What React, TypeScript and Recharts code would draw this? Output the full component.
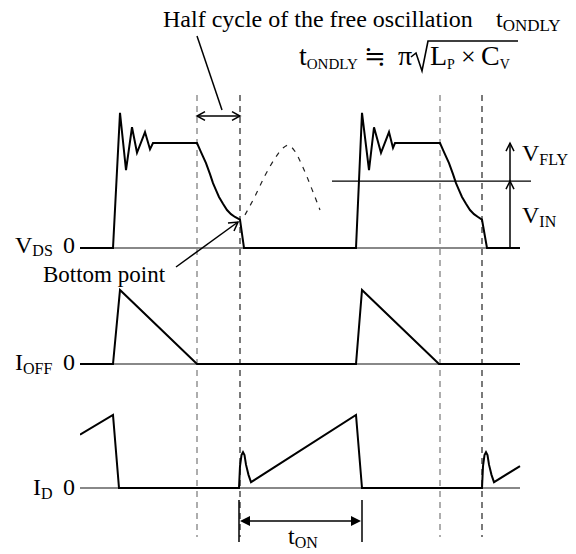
import React from "react"
import { ComposedChart, Line, XAxis, YAxis, ReferenceLine } from "recharts"

// time axis in px-like units (0 = left end of traces)
const vdsWave = [
  { t: 0, v: 0 }, { t: 33, v: 0 }, { t: 40, v: 1.96 }, { t: 46, v: 1.13 }, { t: 52, v: 1.75 },
  { t: 57, v: 1.38 }, { t: 65, v: 1.68 }, { t: 70, v: 1.43 }, { t: 73, v: 1.52 }, { t: 117, v: 1.52 },
  { t: 121, v: 1.39 }, { t: 126, v: 1.23 }, { t: 130, v: 1.07 }, { t: 133, v: 0.94 }, { t: 136, v: 0.84 },
  { t: 139, v: 0.74 }, { t: 143, v: 0.64 }, { t: 147, v: 0.55 }, { t: 151, v: 0.49 }, { t: 155, v: 0.45 },
  { t: 160, v: 0.41 }, { t: 164, v: 0 },
  { t: 276, v: 0 }, { t: 282, v: 1.96 }, { t: 289, v: 1.13 }, { t: 294, v: 1.75 }, { t: 301, v: 1.38 },
  { t: 309, v: 1.68 }, { t: 313, v: 1.45 }, { t: 315, v: 1.52 }, { t: 360, v: 1.52 },
  { t: 364, v: 1.39 }, { t: 369, v: 1.23 }, { t: 373, v: 1.07 }, { t: 376, v: 0.94 }, { t: 379, v: 0.84 },
  { t: 382, v: 0.74 }, { t: 386, v: 0.64 }, { t: 390, v: 0.55 }, { t: 394, v: 0.49 }, { t: 398, v: 0.45 },
  { t: 402, v: 0.41 }, { t: 407, v: 0 },
  { t: 440, v: 0 },
]

// free oscillation continuation (dashed)
const freeOsc = [
  { t: 165, v: 0.48 }, { t: 175, v: 0.75 }, { t: 185, v: 1.05 }, { t: 195, v: 1.3 }, { t: 203, v: 1.45 },
  { t: 208, v: 1.49 }, { t: 214, v: 1.42 }, { t: 222, v: 1.2 }, { t: 232, v: 0.85 }, { t: 240, v: 0.55 },
]

const ioffWave = [
  { t: 0, v: 0 }, { t: 33, v: 0 }, { t: 40, v: 1 }, { t: 117, v: 0 },
  { t: 276, v: 0 }, { t: 282, v: 1 }, { t: 359, v: 0 }, { t: 440, v: 0 },
]

const idWave = [
  { t: 0, v: 0.73 }, { t: 33, v: 1.0 }, { t: 39, v: 0 }, { t: 159, v: 0 },
  { t: 160, v: 0.3 }, { t: 161.5, v: 0.45 }, { t: 163, v: 0.49 }, { t: 164.5, v: 0.45 },
  { t: 166, v: 0.32 }, { t: 168.5, v: 0.18 }, { t: 171, v: 0.08 }, { t: 276, v: 1.0 },
  { t: 282, v: 0 }, { t: 402, v: 0 },
  { t: 403, v: 0.3 }, { t: 404.5, v: 0.45 }, { t: 406, v: 0.49 }, { t: 407.5, v: 0.45 },
  { t: 409, v: 0.32 }, { t: 411.5, v: 0.18 }, { t: 414, v: 0.08 }, { t: 440, v: 0.3 },
]

const zeroLine = [{ t: 0, v: 0 }, { t: 440, v: 0 }]
const markerTimes = [117, 160, 360, 402]
const vinLevel = 0.97
const flyLevel = 1.52
const halfCycle = [117, 160]
const tOn = [159, 282]

const W = 576
const H = 554
const LEFT = 80
// baseline pixel and px per unit for each trace
const vdsBase = 248, vdsK = 69
const ioffBase = 364, ioffK = 74
const idBase = 488, idK = 73
const dom = (b: number, k: number) => [-(H - b) / k, b / k]
const px = (t: number) => LEFT + t
const pxToV = (p: number) => (vdsBase - p) / vdsK

const txt: React.CSSProperties = { fontFamily: '"Liberation Serif", "DejaVu Serif", serif' }
const ink = "#000"

const Sub = ({ children, size = 16, dy = 4 }: any) => (
  <tspan fontSize={size} dy={dy}>{children}</tspan>
)

const openHead = (x: number, y: number, dir: "l" | "r" | "u", s = 8) => {
  if (dir === "l") return `M${x + s},${y - s * 0.55} L${x},${y} L${x + s},${y + s * 0.55}`
  if (dir === "r") return `M${x - s},${y - s * 0.55} L${x},${y} L${x - s},${y + s * 0.55}`
  return `M${x - s * 0.5},${y + s} L${x},${y} L${x + s * 0.5},${y + s}`
}

export default function App() {
  const hx1 = px(halfCycle[0]), hx2 = px(halfCycle[1])
  const ox1 = px(tOn[0]), ox2 = px(tOn[1])
  const vinY = vdsBase - vinLevel * vdsK
  const flatY = vdsBase - flyLevel * vdsK
  return (
    <div style={{ position: "absolute", left: 0, top: 0, width: W, height: H, background: "#fff" }}>
      <ComposedChart width={W} height={H} margin={{ top: 0, right: W - LEFT - 460, left: LEFT, bottom: 0 }}>
        <XAxis type="number" dataKey="t" domain={[0, 460]} hide allowDataOverflow />
        <YAxis yAxisId="vds" type="number" domain={dom(vdsBase, vdsK)} hide allowDataOverflow />
        <YAxis yAxisId="ioff" type="number" domain={dom(ioffBase, ioffK)} hide allowDataOverflow />
        <YAxis yAxisId="id" type="number" domain={dom(idBase, idK)} hide allowDataOverflow />
        {markerTimes.map((t, i) => (
          <ReferenceLine
            key={t}
            yAxisId="vds"
            segment={[{ x: t, y: pxToV(95) }, { x: t, y: pxToV(537) }]}
            stroke={i % 2 === 0 ? "#777" : "#222"}
            strokeWidth={1.2}
            strokeDasharray="6 5"
          />
        ))}
        <ReferenceLine
          yAxisId="vds"
          segment={[{ x: 252, y: vinLevel }, { x: 451, y: vinLevel }]}
          stroke={ink}
          strokeWidth={1.3}
          ifOverflow="visible"
        />
        <Line yAxisId="vds" data={zeroLine} dataKey="v" stroke="#888" strokeWidth={2} dot={false} isAnimationActive={false} />
        <Line yAxisId="ioff" data={zeroLine} dataKey="v" stroke="#888" strokeWidth={2} dot={false} isAnimationActive={false} />
        <Line yAxisId="id" data={zeroLine} dataKey="v" stroke="#888" strokeWidth={2} dot={false} isAnimationActive={false} />
        <Line yAxisId="vds" data={freeOsc} dataKey="v" type="monotone" stroke="#222" strokeWidth={1.2} strokeDasharray="5 6" dot={false} isAnimationActive={false} />
        <Line yAxisId="vds" data={vdsWave} dataKey="v" type="linear" stroke={ink} strokeWidth={2} dot={false} isAnimationActive={false} />
        <Line yAxisId="ioff" data={ioffWave} dataKey="v" type="linear" stroke={ink} strokeWidth={2} dot={false} isAnimationActive={false} />
        <Line yAxisId="id" data={idWave} dataKey="v" type="linear" stroke={ink} strokeWidth={2} dot={false} isAnimationActive={false} />
      </ComposedChart>

      <svg width={W} height={H} style={{ position: "absolute", left: 0, top: 0, pointerEvents: "none" }}>
        <g fill={ink} fontSize={24}>
          <text style={txt} x={163} y={27}>Half cycle of the free oscillation</text>
          <text style={txt} x={496} y={27}>t<Sub size={17}>ONDLY</Sub></text>

          {/* formula */}
          <text style={txt} x={299} y={65} fontSize={28}>t<Sub size={15}>ONDLY</Sub></text>
          <text style={txt} x={364} y={65} fontSize={26}>≒</text>
          <text style={txt} x={398} y={65} fontSize={28}>π</text>
          <text style={txt} x={430} y={65} fontSize={28}>L<Sub size={14}>P</Sub></text>
          <text style={txt} x={461} y={65} fontSize={26}>×</text>
          <text style={txt} x={481} y={65} fontSize={28}>C<Sub size={14}>V</Sub></text>

          <text style={txt} x={15} y={253}>V<Sub dy={3}>DS</Sub></text>
          <text style={txt} x={63} y={253}>0</text>
          <text style={txt} x={43} y={282} fontSize={23}>Bottom point</text>
          <text style={txt} x={15} y={370}>I<Sub>OFF</Sub></text>
          <text style={txt} x={63} y={370}>0</text>
          <text style={txt} x={33} y={495}>I<Sub>D</Sub></text>
          <text style={txt} x={63} y={495}>0</text>
          <text style={txt} x={522} y={161}>V<Sub>FLY</Sub></text>
          <text style={txt} x={522} y={223}>V<Sub>IN</Sub></text>
          <text style={txt} x={288} y={544}>t<Sub>ON</Sub></text>
        </g>
        <g stroke={ink} fill="none" strokeWidth={1.5}>
          {/* radical sign */}
          <path d="M411,57 L416,53 L422,71 L428,41 L518,41" strokeWidth={1.6} />
          {/* half cycle leader + double arrow */}
          <line x1={197} y1={36} x2={222} y2={110} />
          <line x1={hx1} y1={116} x2={hx2} y2={116} />
          <path d={openHead(hx1, 116, "l")} />
          <path d={openHead(hx2, 116, "r")} />
          {/* bottom point leader */}
          <line x1={176} y1={267} x2={238} y2={222} />
          <path d="M228,223 L238,222 L234,231" />
          {/* V_FLY / V_IN arrows */}
          <line x1={510} y1={vdsBase} x2={510} y2={flatY} />
          <path d={openHead(510, flatY, "u")} />
          <path d={openHead(510, vinY, "u")} />
          {/* t_ON */}
          <line x1={ox1} y1={500} x2={ox1} y2={542} />
          <line x1={ox2} y1={500} x2={ox2} y2={542} />
          <line x1={ox1 + 4} y1={521} x2={ox2 - 4} y2={521} />
        </g>
        <path d={`M${ox1 + 1},521 L${ox1 + 11},516 L${ox1 + 11},526 Z`} fill={ink} />
        <path d={`M${ox2 - 1},521 L${ox2 - 11},516 L${ox2 - 11},526 Z`} fill={ink} />
      </svg>
    </div>
  )
}
